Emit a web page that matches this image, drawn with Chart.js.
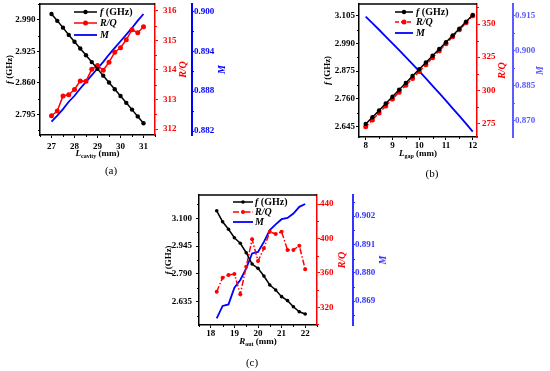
<!DOCTYPE html>
<html>
<head>
<meta charset="utf-8">
<script src="https://cdn.jsdelivr.net/npm/chart.js@4.4.1/dist/chart.umd.min.js"></script>
<style>
  body { margin: 0; background: #fff; }
  #page { position: relative; width: 550px; height: 371px; overflow: hidden; font-family: "Liberation Serif", "Times New Roman", serif; }
  canvas { position: absolute; }
  .cap { position: absolute; font-size: 11px; transform: translate(-50%, -50%); white-space: nowrap; }
</style>
</head>
<body>
<div id="page">
  <canvas id="chartA" width="240" height="165" style="left:0;top:0"></canvas>
  <canvas id="chartB" width="250" height="165" style="left:300px;top:0"></canvas>
  <canvas id="chartC" width="250" height="186" style="left:140px;top:185px"></canvas>
  <div class="cap" style="left:111px;top:170px">(a)</div>
  <div class="cap" style="left:432px;top:173px">(b)</div>
  <div class="cap" style="left:252px;top:362px">(c)</div>
</div>
<script>
// (a) cavity length sweep
const lCavity = [27, 27.25, 27.5, 27.75, 28, 28.25, 28.5, 28.75, 29, 29.25, 29.5, 29.75, 30, 30.25, 30.5, 30.75, 31];
const freqA = [3.002, 2.988, 2.974, 2.959, 2.945, 2.931, 2.917, 2.903, 2.889, 2.875, 2.861, 2.847, 2.833, 2.819, 2.805, 2.791, 2.777];
const rqA = [312.45, 312.61, 313.12, 313.16, 313.34, 313.63, 313.62, 314.02, 314.15, 313.99, 314.26, 314.60, 314.75, 315.02, 315.36, 315.26, 315.46];
const mA = [0.8834, 0.8843, 0.8853, 0.8864, 0.8873, 0.8884, 0.8894, 0.8904, 0.8914, 0.8924, 0.8935, 0.8945, 0.8955, 0.8965, 0.8975, 0.8986, 0.8996];
const xTicksA = [27, 28, 29, 30, 31];
const fTicksA = [2.795, 2.860, 2.925, 2.990];
const rqTicksA = [312, 313, 314, 315, 316];
const mTicksA = [0.882, 0.888, 0.894, 0.900];

// (b) gap length sweep
const lGap = [8, 8.25, 8.5, 8.75, 9, 9.25, 9.5, 9.75, 10, 10.25, 10.5, 10.75, 11, 11.25, 11.5, 11.75, 12];
const freqB = [2.656, 2.684, 2.712, 2.741, 2.769, 2.798, 2.826, 2.855, 2.883, 2.911, 2.939, 2.967, 2.995, 3.023, 3.051, 3.080, 3.108];
const rqB = [272.4, 277.6, 282.9, 288.1, 293.3, 298.5, 303.7, 308.9, 314.1, 319.3, 324.6, 329.8, 335.0, 340.3, 345.6, 350.9, 356.3];
const mB = [0.9144, 0.9116, 0.9088, 0.9059, 0.9030, 0.9001, 0.8971, 0.8941, 0.8911, 0.8880, 0.8848, 0.8817, 0.8785, 0.8752, 0.8720, 0.8687, 0.8653];
const xTicksB = [8, 9, 10, 11, 12];
const fTicksB = [2.645, 2.760, 2.875, 2.990, 3.105];
const rqTicksB = [275, 300, 325, 350];
const mTicksB = [0.870, 0.885, 0.900, 0.915];

// (c) outer radius sweep
const rOut = [18.25, 18.5, 18.75, 19, 19.25, 19.5, 19.75, 20, 20.25, 20.5, 20.75, 21, 21.25, 21.5, 21.75, 22];
const freqC = [3.142, 3.081, 3.039, 2.992, 2.961, 2.908, 2.845, 2.821, 2.778, 2.728, 2.700, 2.663, 2.641, 2.607, 2.579, 2.566];
const rqC = [338.1, 354.4, 357.5, 358.7, 335.1, 367.2, 399.0, 373.8, 388.5, 407.8, 405.1, 407.8, 386.6, 386.6, 391.6, 364.1];
const mC = [0.8623, 0.8671, 0.8677, 0.8742, 0.8772, 0.8817, 0.8875, 0.8881, 0.8920, 0.8966, 0.8988, 0.9008, 0.9013, 0.9030, 0.9056, 0.9067];
const xTicksC = [18, 19, 20, 21, 22];
const fTicksC = [2.635, 2.790, 2.945, 3.100];
const rqTicksC = [320, 360, 400, 440];
const mTicksC = [0.869, 0.880, 0.891, 0.902];

const SERIF = '"Liberation Serif", "Times New Roman", serif';
const RED = '#ff0000';
const BLUE = '#0000ff';

function pts(xs, ys) {
  return xs.map((x, i) => ({ x, y: ys[i] }));
}

function segFont(s, size) {
  const sz = s.sub ? Math.round(size * 0.7) : size;
  return (s.it ? 'italic ' : '') + 'bold ' + sz + 'px ' + SERIF;
}

// draw text made of pieces (italic / subscript)
function richText(ctx, segs, x, y, color, size, align) {
  let w = 0;
  segs.forEach(s => { ctx.font = segFont(s, size); w += ctx.measureText(s.t).width; });
  let cx = align === 'center' ? x - w / 2 : x;
  ctx.fillStyle = color;
  ctx.textBaseline = 'middle';
  ctx.textAlign = 'left';
  segs.forEach(s => {
    ctx.font = segFont(s, size);
    ctx.fillText(s.t, cx, y + (s.sub ? size * 0.3 : 0));
    cx += ctx.measureText(s.t).width;
  });
}

function minorTicks(ctx, sc) {
  const t = sc.ticks;
  if (t.length < 2) return;
  const step = t[1].value - t[0].value;
  ctx.strokeStyle = sc.options.border.color;
  ctx.lineWidth = 1;
  for (let v = t[0].value - step / 2; v <= sc.max; v += step) {
    if (v < sc.min) continue;
    const p = Math.round(sc.getPixelForValue(v)) + 0.5;
    ctx.beginPath();
    if (sc.axis === 'x') { ctx.moveTo(p, sc.top); ctx.lineTo(p, sc.top + 2); }
    else if (sc.position === 'left') { ctx.moveTo(sc.right, p); ctx.lineTo(sc.right - 2, p); }
    else { ctx.moveTo(sc.left, p); ctx.lineTo(sc.left + 2, p); }
    ctx.stroke();
  }
}

const legendLabels = [
  [{ t: 'f', it: true }, { t: ' (GHz)' }],
  [{ t: 'R/Q', it: true }],
  [{ t: 'M', it: true }]
];

const decoPlugin = {
  id: 'deco',
  afterDraw(chart, args, o) {
    const ctx = chart.ctx;
    const a = chart.chartArea;
    ctx.save();
    // top frame line
    ctx.strokeStyle = '#000';
    ctx.lineWidth = 1.5;
    ctx.beginPath();
    ctx.moveTo(a.left, a.top);
    ctx.lineTo(a.right, a.top);
    ctx.stroke();

    Object.values(chart.scales).forEach(sc => minorTicks(ctx, sc));

    // axis titles
    const midY = (a.top + a.bottom) / 2;
    const rot = (segs, x, color, size) => {
      ctx.save();
      ctx.translate(x, midY);
      ctx.rotate(-Math.PI / 2);
      richText(ctx, segs, 0, 0, color, size, 'center');
      ctx.restore();
    };
    rot([{ t: 'f', it: true }, { t: ' (GHz)' }], o.fX, '#000', 9);
    rot([{ t: 'R/Q', it: true }], o.rqX, RED, 10);
    rot([{ t: 'M', it: true }], o.mX, o.mColor, 10);
    richText(ctx, o.xTitle, (a.left + a.right) / 2, o.xY, '#000', 9, 'center');

    // legend
    chart.data.datasets.forEach((ds, i) => {
      const y = o.rows[i];
      ctx.strokeStyle = ds.borderColor;
      ctx.lineWidth = ds.borderWidth;
      ctx.setLineDash(ds.borderDash || []);
      ctx.beginPath();
      ctx.moveTo(o.lx0, y);
      ctx.lineTo(o.lx1, y);
      ctx.stroke();
      ctx.setLineDash([]);
      if (ds.pointRadius) {
        ctx.fillStyle = ds.borderColor;
        ctx.beginPath();
        ctx.arc((o.lx0 + o.lx1) / 2, y, ds.pointRadius, 0, Math.PI * 2);
        ctx.fill();
      }
      richText(ctx, legendLabels[i], o.tx, y, '#000', 10, 'left');
    });
    ctx.restore();
  }
};

function yScale(p) {
  return {
    type: 'linear',
    position: p.pos,
    weight: p.weight,
    min: p.min,
    max: p.max,
    afterBuildTicks: sc => { sc.ticks = p.ticks.map(v => ({ value: v })); },
    afterFit: sc => { sc.width = p.width; sc.paddingTop = 0; sc.paddingBottom = 0; },
    grid: { drawOnChartArea: false, tickLength: p.tick, color: p.color, tickWidth: 1 },
    border: { color: p.color, width: p.bw },
    ticks: {
      color: p.color,
      padding: p.pad,
      font: { family: SERIF, size: 9, weight: 'bold' },
      callback: v => v.toFixed(p.dec)
    }
  };
}

function panel(id, c) {
  new Chart(document.getElementById(id), {
    type: 'line',
    data: {
      datasets: [
        { label: 'f (GHz)', data: pts(c.x, c.f), yAxisID: 'y', borderColor: '#000', backgroundColor: '#000',
          borderWidth: 1.5, pointRadius: c.fR, pointBorderWidth: 0, pointBackgroundColor: '#000' },
        { label: 'R/Q', data: pts(c.x, c.rq), yAxisID: 'yR', borderColor: RED, backgroundColor: RED,
          borderWidth: 1.5, borderDash: c.rqDash, pointRadius: c.rqR, pointBorderWidth: 0, pointBackgroundColor: RED },
        { label: 'M', data: pts(c.x, c.m), yAxisID: 'yM', borderColor: BLUE, backgroundColor: BLUE,
          borderWidth: 1.8, pointRadius: 0 }
      ]
    },
    options: {
      responsive: false,
      animation: false,
      events: [],
      layout: { padding: { top: c.top, left: 0, right: 0, bottom: 0 } },
      plugins: {
        legend: { display: false },
        tooltip: { enabled: false },
        deco: c.deco
      },
      scales: {
        x: {
          type: 'linear',
          position: 'bottom',
          min: c.xMin,
          max: c.xMax,
          afterBuildTicks: sc => { sc.ticks = c.xTicks.map(v => ({ value: v })); },
          afterFit: sc => { sc.height = c.xH; sc.paddingLeft = 0; sc.paddingRight = 0; },
          grid: { drawOnChartArea: false, tickLength: 3, color: '#000' },
          border: { color: '#000', width: 1.5 },
          ticks: { color: '#000', padding: c.xPad, font: { family: SERIF, size: 9, weight: 'bold' } }
        },
        y: yScale({ pos: 'left', weight: 0, min: c.fMin, max: c.fMax, ticks: c.fTicks, width: c.lW,
                    tick: 3, pad: c.lPad, color: '#000', bw: 1.5, dec: 3 }),
        yR: yScale({ pos: 'right', weight: 0, min: c.rqMin, max: c.rqMax, ticks: c.rqTicks, width: c.rW,
                     tick: 3, pad: c.rPad, color: RED, bw: 1.5, dec: 0 }),
        yM: yScale({ pos: 'right', weight: 1, min: c.mMin, max: c.mMax, ticks: c.mTicks, width: c.mW,
                     tick: 2, pad: 0, color: c.mAxis, bw: 2, dec: 3 })
      }
    },
    plugins: [decoPlugin]
  });
}

panel('chartA', {
  x: lCavity, f: freqA, rq: rqA, m: mA,
  xTicks: xTicksA, fTicks: fTicksA, rqTicks: rqTicksA, mTicks: mTicksA,
  xMin: 26.5, xMax: 31.5, fMin: 2.7527, fMax: 3.0227, rqMin: 311.8, rqMax: 316.23, mMin: 0.8814, mMax: 0.9011,
  top: 3, xH: 30, lW: 40, rW: 37, mW: 48, xPad: 3, lPad: 1.5, rPad: 5,
  fR: 2.2, rqR: 2.5, rqDash: [], mAxis: BLUE,
  deco: { fX: 10, rqX: 183, mX: 222, xY: 154, mColor: BLUE,
          xTitle: [{ t: 'L', it: true }, { t: 'cavity', sub: true }, { t: ' (mm)' }],
          lx0: 74, lx1: 97, tx: 100, rows: [12, 23, 35] }
});

panel('chartB', {
  x: lGap, f: freqB, rq: rqB, m: mB,
  xTicks: xTicksB, fTicks: fTicksB, rqTicks: rqTicksB, mTicks: mTicksB,
  xMin: 7.75, xMax: 12.16, fMin: 2.602, fMax: 3.1535, rqMin: 264.7, rqMax: 365.1, mMin: 0.863, mMax: 0.9198,
  top: 4, xH: 28, lW: 59, rW: 36, mW: 37, xPad: 0, lPad: 1, rPad: 2,
  fR: 2.2, rqR: 2.5, rqDash: [4, 2], mAxis: '#5b5bff',
  deco: { fX: 28, rqX: 202, mX: 240, xY: 154, mColor: '#5b5bff',
          xTitle: [{ t: 'L', it: true }, { t: 'gap', sub: true }, { t: ' (mm)' }],
          lx0: 95, lx1: 113, tx: 116, rows: [12, 22, 33] }
});

panel('chartC', {
  x: rOut, f: freqC, rq: rqC, m: mC,
  xTicks: xTicksC, fTicks: fTicksC, rqTicks: rqTicksC, mTicks: mTicksC,
  xMin: 17.5, xMax: 22.5, fMin: 2.505, fMax: 3.23, rqMin: 299.4, rqMax: 450.5, mMin: 0.8597, mMax: 0.9102,
  top: 10, xH: 46, lW: 59, rW: 36, mW: 37, xPad: 0, lPad: 4, rPad: 0,
  fR: 1.8, rqR: 2, rqDash: [6, 2, 1.5, 2], mAxis: '#3333ff',
  deco: { fX: 29, rqX: 202, mX: 243, xY: 157, mColor: '#3333ff',
          xTitle: [{ t: 'R', it: true }, { t: 'out', sub: true }, { t: ' (mm)' }],
          lx0: 93, lx1: 113, tx: 115, rows: [17, 27, 37] }
});
</script>
</body>
</html>
